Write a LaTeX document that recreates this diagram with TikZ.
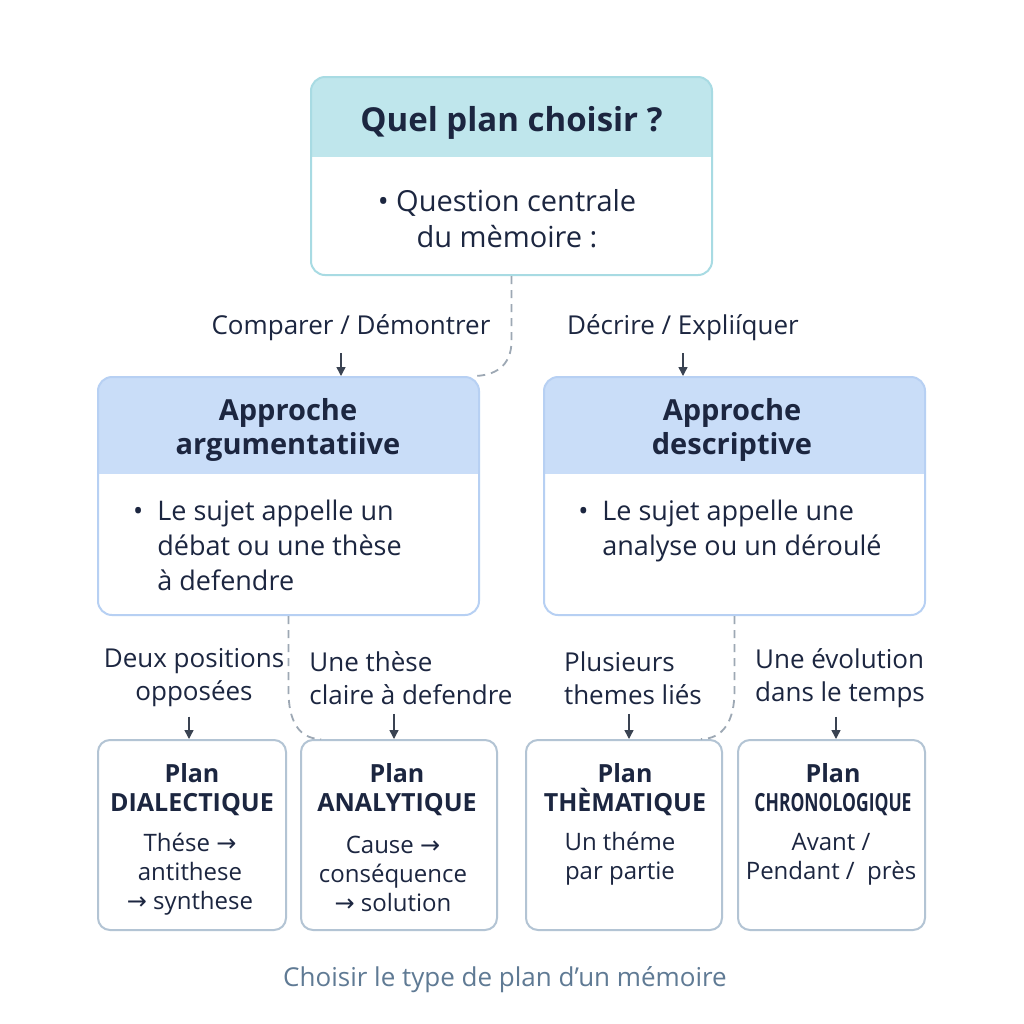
\documentclass[tikz,border=0pt]{standalone}
\usepackage{fontspec}
\usepackage{graphicx}
\setmainfont{Open Sans}
\newfontfamily\symfont{DejaVu Sans}
\usetikzlibrary{arrows.meta,calc,positioning}
\definecolor{InkBlue}{HTML}{1C2640}
\definecolor{CapGray}{HTML}{5F7A94}
\definecolor{CyanHead}{HTML}{BFE6EC}
\definecolor{CyanEdge}{HTML}{A8DBE3}
\definecolor{BlueHead}{HTML}{C9DDF8}
\definecolor{BlueEdge}{HTML}{B7D0F3}
\definecolor{PlanEdge}{HTML}{B3C4D4}
\definecolor{DashGray}{HTML}{9DA8B4}
\definecolor{ArrGray}{HTML}{3A4352}
\newcommand{\fsz}[2]{\fontsize{#1}{#2}\selectfont}
\newcommand{\rarr}{{\symfont\fontsize{12pt}{12pt}\selectfont →}}

\tikzset{
	box/.style={draw, rounded corners=7pt, line width=1pt, fill=white, inner sep=0pt},
	headfill/.style 2 args={path picture={
		\fill[#1, sharp corners] (path picture bounding box.north west) rectangle
		([yshift=-#2]path picture bounding box.north east);}},
	txt/.style={text=InkBlue, inner sep=0pt, align=center},
	lbl/.style={text=InkBlue, inner sep=0pt, font=\fsz{13pt}{16.5pt}},
	arr/.style={-{Triangle[width=4.5pt,length=4.5pt]}, ArrGray, line width=0.7pt},
	dashline/.style={DashGray, line width=0.9pt, dash pattern=on 4pt off 3pt}
}

\begin{document}
\begin{tikzpicture}[x=0.5pt, y=-0.5pt]
			\useasboundingbox[fill=white] (0,0) rectangle (1024,1024);
			% boxes
			\node[box, draw=CyanEdge, headfill={CyanHead}{40pt}, minimum width=200.5pt, minimum height=99pt] (quest) at (511.5,176) {};
			\node[box, draw=BlueEdge, headfill={BlueHead}{48.5pt}, minimum width=190.5pt, minimum height=119pt] (argu) at (288.5,496) {};
			\node[box, draw=BlueEdge, headfill={BlueHead}{48.5pt}, minimum width=190.5pt, minimum height=119pt] (descr) at (734.5,496) {};
			\node[box, draw=PlanEdge, rounded corners=6pt, minimum width=94pt, minimum height=95pt] (dial) at (192,835) {};
			\node[box, draw=PlanEdge, rounded corners=6pt, minimum width=98pt, minimum height=95pt] (analy) at (399,835) {};
			\node[box, draw=PlanEdge, rounded corners=6pt, minimum width=98pt, minimum height=95pt] (them) at (624,835) {};
			\node[box, draw=PlanEdge, rounded corners=6pt, minimum width=93.5pt, minimum height=95pt] (chrono) at (831.5,835) {};
			% texts in the boxes
			\node[txt, font=\bfseries\fsz{16.5pt}{20pt}] (questT) at (511.5,123) {Quel plan choisir ?};
			\node[txt, font=\fsz{14.5pt}{18pt}] (questB) at (507,219) {• Question centrale\\du mèmoire :};
			\node[txt, font=\bfseries\fsz{14.5pt}{17pt}] (arguT) at (288,430) {Approche\\argumentatiive};
			\node[txt, font=\bfseries\fsz{14.5pt}{17pt}] (descrT) at (732,430) {Approche\\descriptive};
			\node[txt, align=left, anchor=north west, font=\fsz{13.5pt}{17.5pt}] (arguB) at (157,500) {\llap{•\hspace{7pt}}Le sujet appelle un\\débat ou une thèse\\à defendre};
			\node[txt, align=left, anchor=north west, font=\fsz{13.5pt}{17.5pt}] (descrB) at (602,500) {\llap{•\hspace{7pt}}Le sujet appelle une\\analyse ou un déroulé};
			\node[txt, font=\bfseries\fsz{12.5pt}{14.5pt}] (dialT) at (192,790) {Plan\\DIALECTIQUE};
			\node[txt, font=\bfseries\fsz{12.5pt}{14.5pt}] (analyT) at (397,790) {Plan\\ANALYTIQUE};
			\node[txt, font=\bfseries\fsz{12.5pt}{14.5pt}] (themT) at (625,790) {Plan\\THÈMATIQUE};
			\node[txt, font=\bfseries\fsz{12.5pt}{14.5pt}] (chronoT) at (833,790) {Plan\\\scalebox{0.7}[1]{CHRONOLOGIQUE}};
			\node[txt, font=\fsz{12pt}{14.5pt}] (dialB) at (190,874) {Thése \rarr\\antithese\\\rarr\ synthese};
			\node[txt, font=\fsz{12pt}{14.5pt}] (analyB) at (393,874) {Cause \rarr\\conséquence\\\rarr\ solution};
			\node[txt, font=\fsz{12pt}{14.5pt}] (themB) at (620,859) {Un théme\\par partie};
			\node[txt, font=\fsz{12pt}{14.5pt}] (chronoB) at (831,859) {Avant /\\Pendant /\ \ près};
			% labels above the boxes
			\node[lbl] (cmp) at (351,328) {Comparer / Démontrer};
			\node[lbl] (expl) at (683,328) {Décrire / Expliíquer};
			\node[lbl, align=center] (deux) at (194,678) {Deux positions\\opposées};
			\node[lbl, align=left] (clair) at (411,678) {Une thèse\\claire à defendre};
			\node[lbl, align=left] (plus) at (633,678) {Plusieurs\\themes liés};
			\node[lbl, align=left] (evol) at (840,678) {Une évolution\\dans le temps};
			% arrows
			\draw[arr, shorten <=6pt] ([xshift=-5pt]cmp.south) -- ([xshift=-5pt]cmp.south |- argu.north);
			\draw[arr, shorten <=6pt] (expl.south) -- (expl.south |- descr.north);
			\draw[arr, shorten <=4.5pt] ([xshift=-2.5pt]deux.south) -- ([xshift=-2.5pt]deux.south |- dial.north);
			\draw[arr, shorten <=4.5pt] ([xshift=-8.5pt]clair.south) -- ([xshift=-8.5pt]clair.south |- analy.north);
			\draw[arr, shorten <=4.5pt] ([xshift=-2pt]plus.south) -- ([xshift=-2pt]plus.south |- them.north);
			\draw[arr, shorten <=4.5pt] ([xshift=-2pt]evol.south) -- ([xshift=-2pt]evol.south |- chrono.north);
			% dashed links
			\draw[dashline] (quest.south) -- ++(0,65) .. controls +(0,25) and +(22,0) .. ([xshift=-3.5pt]argu.north east);
			\draw[dashline] (argu.south) -- ++(0,75) .. controls +(0,30) and +(-22,0) .. ([xshift=10.5pt]analy.north west);
			\draw[dashline] (descr.south) -- ++(0,75) .. controls +(0,30) and +(22,0) .. ([xshift=-11pt]them.north east);
			% caption
			\node[txt, text=CapGray, font=\fsz{13pt}{15pt}] (capt) at (505,980) {Choisir le type de plan d’un mémoire};
		\end{tikzpicture}
\end{document}
